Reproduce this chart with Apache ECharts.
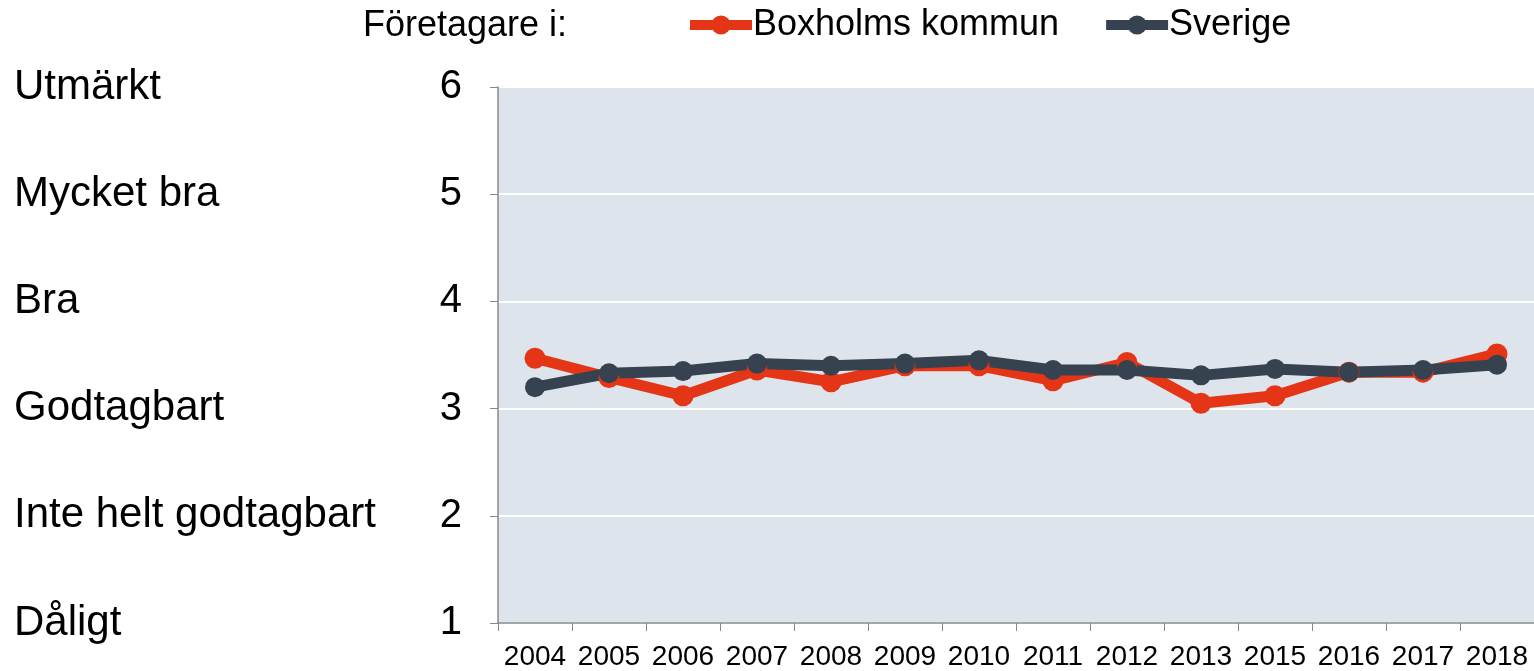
<!DOCTYPE html>
<html>
<head>
<meta charset="utf-8">
<script src="https://cdn.jsdelivr.net/npm/echarts@6/dist/echarts.min.js"></script>
<style>
	html, body { margin: 0; padding: 0; background: #fff; }
	#chart { width: 1534px; height: 671px; }
</style>
</head>
<body>
<div id="chart"></div>
<script>
const years = ['2004', '2005', '2006', '2007', '2008', '2009', '2010', '2011', '2012', '2013', '2015', '2016', '2017', '2018'];
const boxholm = [3.47, 3.29, 3.12, 3.36, 3.25, 3.40, 3.40, 3.26, 3.43, 3.05, 3.12, 3.34, 3.34, 3.51];
const sverige = [3.20, 3.33, 3.35, 3.42, 3.40, 3.42, 3.45, 3.36, 3.36, 3.31, 3.37, 3.34, 3.36, 3.41];
const gradeLabels = ['Dåligt', 'Inte helt godtagbart', 'Godtagbart', 'Bra', 'Mycket bra', 'Utmärkt'];

const FONT = '"Liberation Sans", Arial, sans-serif';
const RED = '#E53517';
const DARK = '#36424F';

const element = document.getElementById('chart');
const chart = echarts.init(element);

function lineSeries(name, data, color, size) {
	return {
		name: name,
		type: 'line',
		data: data,
		symbol: 'circle',
		symbolSize: size,
		lineStyle: { width: 11, color: color },
		itemStyle: { color: color },
		emphasis: { disabled: true }
	};
}

chart.setOption({
	animation: false,
	textStyle: { fontFamily: FONT, color: '#000' },
	graphic: [{
		type: 'text',
		left: 363,
		top: 8,
		style: { text: 'Företagare i:', font: '36px ' + FONT, fill: '#000' }
	}],
	legend: {
		left: 680,
		top: 2,
		itemWidth: 62,
		itemHeight: 24,
		itemGap: 42,
		lineStyle: { width: 10 },
		textStyle: { fontSize: 36, fontFamily: FONT, color: '#000', padding: [0, 0, 0, -4] },
		data: ['Boxholms kommun', 'Sverige']
	},
	grid: {
		left: 498,
		right: 0,
		top: 87,
		bottom: 45,
		show: true,
		backgroundColor: '#DEE4EB',
		borderWidth: 0
	},
	xAxis: {
		type: 'category',
		data: years,
		boundaryGap: true,
		axisLine: { lineStyle: { color: '#888', width: 1.5 } },
		axisTick: { show: true, length: 8, lineStyle: { color: '#888' } },
		axisLabel: { fontSize: 28, color: '#000', margin: 20, interval: 0 }
	},
	yAxis: [{
		type: 'value',
		min: 1,
		max: 6,
		interval: 1,
		axisLine: { show: true, lineStyle: { color: '#888', width: 1.5 } },
		axisTick: { show: true, length: 8, lineStyle: { color: '#888' } },
		axisLabel: { fontSize: 40, color: '#000', margin: 36 },
		splitLine: { lineStyle: { color: '#fff', width: 2 } }
	}, {
		type: 'value',
		position: 'left',
		offset: 484,
		min: 1,
		max: 6,
		interval: 1,
		axisLine: { show: false },
		axisTick: { show: false },
		splitLine: { show: false },
		axisLabel: {
			fontSize: 42,
			color: '#000',
			align: 'left',
			margin: 0,
			formatter: (v) => gradeLabels[v - 1] ?? ''
		}
	}],
	series: [
		lineSeries('Boxholms kommun', boxholm, RED, 21),
		lineSeries('Sverige', sverige, DARK, 20)
	]
});
</script>
</body>
</html>
